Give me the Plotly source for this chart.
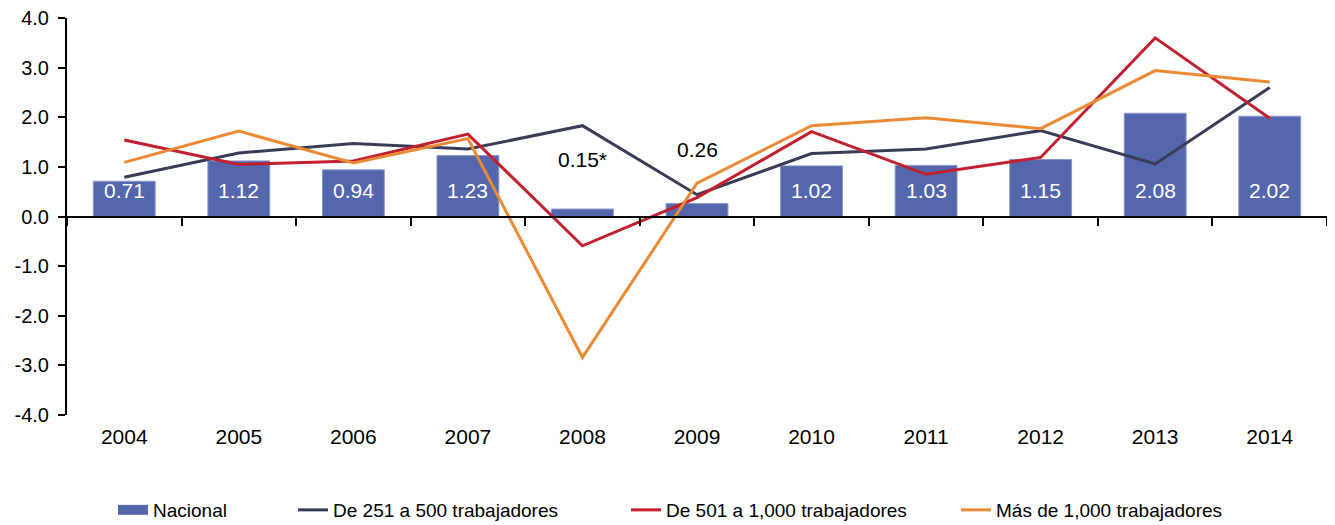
import plotly.graph_objects as go

years = ["2004", "2005", "2006", "2007", "2008", "2009", "2010", "2011", "2012", "2013", "2014"]
nacional = [0.71, 1.12, 0.94, 1.23, 0.15, 0.26, 1.02, 1.03, 1.15, 2.08, 2.02]
nacional_labels = ["0.71", "1.12", "0.94", "1.23", "0.15*", "0.26", "1.02", "1.03", "1.15", "2.08", "2.02"]
de_251_500 = [0.79, 1.28, 1.47, 1.36, 1.83, 0.44, 1.27, 1.36, 1.73, 1.06, 2.60]
de_501_1000 = [1.54, 1.05, 1.12, 1.66, -0.59, 0.38, 1.71, 0.85, 1.19, 3.60, 1.98]
mas_1000 = [1.09, 1.72, 1.08, 1.57, -2.84, 0.67, 1.83, 1.99, 1.77, 2.94, 2.71]
y_ticks = [-4, -3, -2, -1, 0, 1, 2, 3, 4]
y_tick_labels = ["-4.0", "-3.0", "-2.0", "-1.0", "0.0", "1.0", "2.0", "3.0", "4.0"]

FONT = "Liberation Sans, Arial, sans-serif"
BAR_COLOR = "#5467ad"
PAGE_PAD = 8  # default body margin of the written html page
W, H = 1335 - 2 * PAGE_PAD, 525 - PAGE_PAD

fig = go.Figure()
fig.add_trace(go.Bar(
    x=years, y=nacional, name="Nacional", width=0.54, showlegend=False,
    marker=dict(color=BAR_COLOR, line=dict(color="#8a97c8", width=1)),
))
# legend stand-in for the bars (wide rectangle like the original)
fig.add_trace(go.Scatter(
    x=[None], y=[None], name="Nacional", mode="lines",
    line=dict(color=BAR_COLOR, width=15), legend="legend",
))
series = [
    ("De 251 a 500 trabajadores", de_251_500, "#383c57", "legend2"),
    ("De 501 a 1,000 trabajadores", de_501_1000, "#c21f2f", "legend3"),
    ("Más de 1,000 trabajadores", mas_1000, "#ec8a34", "legend4"),
]
for name, vals, color, leg in series:
    fig.add_trace(go.Scatter(
        x=years, y=vals, name=name, mode="lines",
        line=dict(color=color, width=3), legend=leg,
    ))

# dummy trace so the bottom label axis gets drawn
fig.add_trace(go.Scatter(
    x=list(range(len(years))), y=[None] * len(years), xaxis="x2",
    showlegend=False, hoverinfo="skip", mode="lines",
))

# bar value labels: white inside the bar, black above for the small ones
for i, (val, lab) in enumerate(zip(nacional, nacional_labels)):
    if val < 0.5:
        y_pos = val + (1.0 if lab.endswith("*") else 1.1)
        color = "black"
    else:
        y_pos = 0.52
        color = "white"
    fig.add_annotation(x=i, y=y_pos, xref="x", yref="y", text=lab, showarrow=False,
                       font=dict(family=FONT, size=21, color=color))


def legend_at(text_x):
    return dict(
        orientation="h", xref="container", yref="container",
        x=(text_x - PAGE_PAD - 42) / W, xanchor="left", y=0.029, yanchor="middle",
        font=dict(size=19), bgcolor="rgba(0,0,0,0)",
    )


fig.update_layout(
    width=W, height=H,
    plot_bgcolor="white", paper_bgcolor="white",
    font=dict(family=FONT, size=19, color="black"),
    margin=dict(l=67 - PAGE_PAD, r=0, t=18 - PAGE_PAD, b=118 - PAGE_PAD, autoexpand=False),
    showlegend=True,
    legend=legend_at(155),
    legend2=legend_at(335),
    legend3=legend_at(668),
    legend4=legend_at(998),
    xaxis=dict(
        type="category", categoryorder="array", categoryarray=years,
        range=[-0.5, len(years) - 0.5],
        anchor="free", position=0.5,
        showline=True, linecolor="black", linewidth=2,
        ticks="outside", tickson="boundaries", ticklen=8, tickcolor="black", tickwidth=1.5,
        showticklabels=False, showgrid=False, zeroline=False,
    ),
    xaxis2=dict(
        overlaying="x", anchor="y", side="bottom", type="linear",
        range=[-0.5, len(years) - 0.5],
        tickvals=list(range(len(years))), ticktext=years,
        showline=False, showgrid=False, zeroline=False,
        ticks="outside", ticklen=3, tickcolor="rgba(0,0,0,0)",
        tickfont=dict(size=21),
    ),
    yaxis=dict(
        range=[-4, 4], tickvals=y_ticks, ticktext=y_tick_labels,
        showline=True, linecolor="black", linewidth=2,
        ticks="outside", ticklen=7, tickcolor="black", tickwidth=1.5,
        ticklabelstandoff=5, ticklabeloverflow="allow",
        showgrid=False, zeroline=False,
        tickfont=dict(size=20),
    ),
)

fig.write_html("out.html")
